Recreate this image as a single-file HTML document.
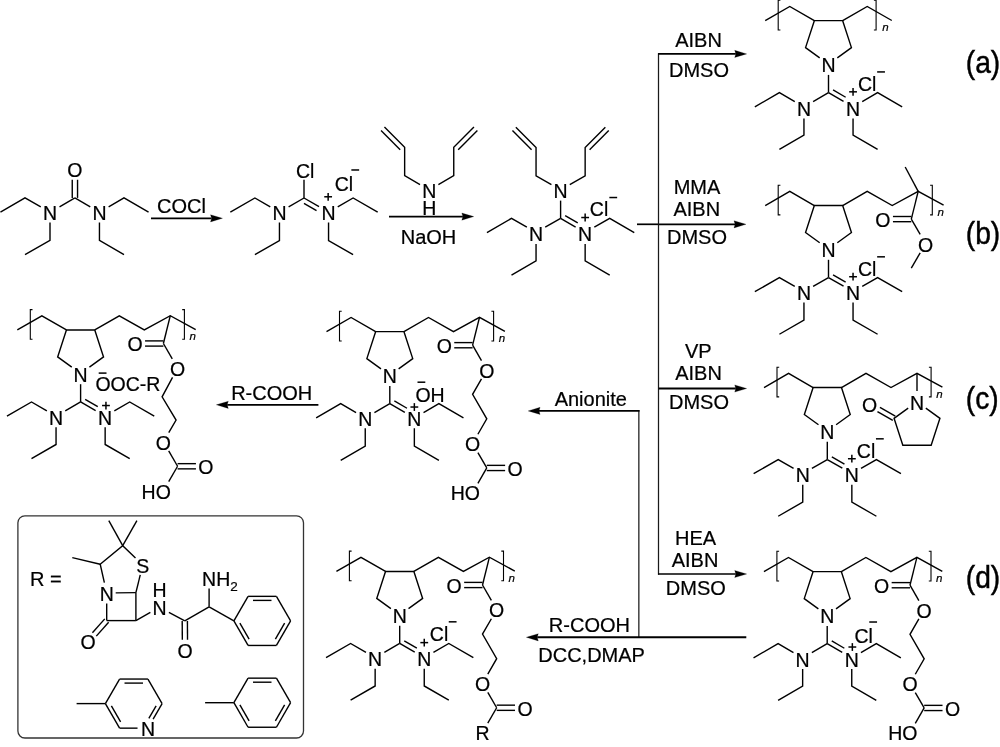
<!DOCTYPE html>
<html><head><meta charset="utf-8"><title>Scheme</title>
<style>html,body{margin:0;padding:0;background:#fff;}body{width:1000px;height:747px;overflow:hidden;font-family:"Liberation Sans",sans-serif;}svg{display:block;will-change:transform;filter:grayscale(1);}</style></head>
<body>
<svg width="1000" height="747" viewBox="0 0 1000 747" font-family="Liberation Sans, sans-serif" fill="#000" stroke="#000" stroke-width="0.22">
<line x1="72.25" y1="197.90" x2="72.25" y2="179.75" stroke="#000" stroke-width="1.4" stroke-linecap="butt"/>
<line x1="77.55" y1="197.90" x2="77.55" y2="179.75" stroke="#000" stroke-width="1.4" stroke-linecap="butt"/>
<text x="74.90" y="177.45" font-size="19.5" text-anchor="middle" >O</text>
<line x1="74.90" y1="197.90" x2="59.53" y2="206.78" stroke="#000" stroke-width="1.4" stroke-linecap="butt"/>
<line x1="74.90" y1="197.90" x2="90.27" y2="206.78" stroke="#000" stroke-width="1.4" stroke-linecap="butt"/>
<polyline fill="none" stroke="#000" stroke-width="1.4" stroke-linejoin="miter" points="40.78,206.85 25.00,197.90 0.45,212.08"/>
<polyline fill="none" stroke="#000" stroke-width="1.4" stroke-linejoin="miter" points="50.00,222.48 50.00,240.43 25.00,254.60"/>
<text x="50.00" y="219.98" font-size="19.5" text-anchor="middle" >N</text>
<polyline fill="none" stroke="#000" stroke-width="1.4" stroke-linejoin="miter" points="108.63,206.78 124.00,197.90 148.56,212.08"/>
<polyline fill="none" stroke="#000" stroke-width="1.4" stroke-linejoin="miter" points="99.45,222.48 99.45,240.43 124.00,254.60"/>
<text x="99.45" y="219.98" font-size="19.5" text-anchor="middle" >N</text>
<line x1="151.00" y1="218.30" x2="211.60" y2="218.30" stroke="#000" stroke-width="1.7" stroke-linecap="butt"/>
<path d="M222.50,218.30 L210.50,221.90 L211.60,218.30 L210.50,214.70 Z" fill="#000"/>
<text x="181.50" y="213.00" font-size="20" text-anchor="middle" >COCl</text>
<line x1="304.00" y1="198.00" x2="304.00" y2="179.85" stroke="#000" stroke-width="1.4" stroke-linecap="butt"/>
<text x="296.00" y="177.55" font-size="19.5" text-anchor="start" >Cl</text>
<line x1="304.00" y1="198.00" x2="288.63" y2="206.88" stroke="#000" stroke-width="1.4" stroke-linecap="butt"/>
<line x1="304.00" y1="198.00" x2="319.03" y2="206.68" stroke="#000" stroke-width="1.4" stroke-linecap="butt"/>
<line x1="303.95" y1="203.28" x2="316.55" y2="210.56" stroke="#000" stroke-width="1.4" stroke-linecap="butt"/>
<polyline fill="none" stroke="#000" stroke-width="1.4" stroke-linejoin="miter" points="270.27,206.88 254.90,198.00 230.34,212.18"/>
<polyline fill="none" stroke="#000" stroke-width="1.4" stroke-linejoin="miter" points="337.73,206.88 353.10,198.00 377.66,212.18"/>
<polyline fill="none" stroke="#000" stroke-width="1.4" stroke-linejoin="miter" points="279.45,222.58 279.45,240.53 254.90,254.70"/>
<polyline fill="none" stroke="#000" stroke-width="1.4" stroke-linejoin="miter" points="328.55,222.58 328.55,240.53 353.10,254.70"/>
<text x="279.45" y="220.08" font-size="19.5" text-anchor="middle" >N</text>
<text x="328.55" y="220.08" font-size="19.5" text-anchor="middle" >N</text>
<line x1="324.25" y1="196.78" x2="332.05" y2="196.78" stroke="#000" stroke-width="1.5" stroke-linecap="butt"/>
<line x1="328.15" y1="192.88" x2="328.15" y2="200.68" stroke="#000" stroke-width="1.5" stroke-linecap="butt"/>
<text x="343.85" y="190.88" font-size="19.5" text-anchor="middle" >Cl</text>
<line x1="351.35" y1="169.98" x2="359.15" y2="169.98" stroke="#000" stroke-width="1.5" stroke-linecap="butt"/>
<line x1="389.00" y1="216.60" x2="462.90" y2="216.60" stroke="#000" stroke-width="1.9" stroke-linecap="butt"/>
<path d="M473.80,216.60 L461.80,220.20 L462.90,216.60 L461.80,213.00 Z" fill="#000"/>
<text x="428.50" y="243.70" font-size="20" text-anchor="middle" >NaOH</text>
<polyline fill="none" stroke="#000" stroke-width="1.4" stroke-linejoin="miter" points="420.02,184.60 404.65,175.72 404.65,147.38 384.45,127.08"/>
<line x1="400.19" y1="149.70" x2="381.04" y2="130.46" stroke="#000" stroke-width="1.4" stroke-linecap="butt"/>
<polyline fill="none" stroke="#000" stroke-width="1.4" stroke-linejoin="miter" points="438.38,184.60 453.75,175.72 453.75,147.38 473.95,127.08"/>
<line x1="458.21" y1="149.70" x2="477.36" y2="130.46" stroke="#000" stroke-width="1.4" stroke-linecap="butt"/>
<text x="429.20" y="197.80" font-size="19.5" text-anchor="middle" >N</text>
<text x="429.20" y="214.60" font-size="19.5" text-anchor="middle" >H</text>
<polyline fill="none" stroke="#000" stroke-width="1.4" stroke-linejoin="miter" points="551.42,184.70 536.05,175.82 536.05,147.47 515.85,127.17"/>
<line x1="531.59" y1="149.80" x2="512.44" y2="130.56" stroke="#000" stroke-width="1.4" stroke-linecap="butt"/>
<polyline fill="none" stroke="#000" stroke-width="1.4" stroke-linejoin="miter" points="569.78,184.70 585.15,175.82 585.15,147.47 605.35,127.17"/>
<line x1="589.61" y1="149.80" x2="608.76" y2="130.56" stroke="#000" stroke-width="1.4" stroke-linecap="butt"/>
<text x="560.60" y="197.90" font-size="19.5" text-anchor="middle" >N</text>
<line x1="560.60" y1="200.60" x2="560.60" y2="218.35" stroke="#000" stroke-width="1.4" stroke-linecap="butt"/>
<line x1="560.60" y1="218.35" x2="545.23" y2="227.22" stroke="#000" stroke-width="1.4" stroke-linecap="butt"/>
<line x1="560.60" y1="218.35" x2="575.63" y2="227.03" stroke="#000" stroke-width="1.4" stroke-linecap="butt"/>
<line x1="565.15" y1="215.67" x2="577.75" y2="222.94" stroke="#000" stroke-width="1.4" stroke-linecap="butt"/>
<polyline fill="none" stroke="#000" stroke-width="1.4" stroke-linejoin="miter" points="526.87,227.22 511.50,218.35 486.94,232.53"/>
<polyline fill="none" stroke="#000" stroke-width="1.4" stroke-linejoin="miter" points="594.33,227.22 609.70,218.35 634.26,232.53"/>
<polyline fill="none" stroke="#000" stroke-width="1.4" stroke-linejoin="miter" points="536.05,243.93 536.05,260.88 511.50,275.05"/>
<polyline fill="none" stroke="#000" stroke-width="1.4" stroke-linejoin="miter" points="585.15,243.93 585.15,260.88 609.70,275.05"/>
<text x="536.05" y="241.43" font-size="19.5" text-anchor="middle" >N</text>
<text x="585.15" y="241.43" font-size="19.5" text-anchor="middle" >N</text>
<line x1="581.25" y1="217.53" x2="589.05" y2="217.53" stroke="#000" stroke-width="1.5" stroke-linecap="butt"/>
<line x1="585.15" y1="213.62" x2="585.15" y2="221.43" stroke="#000" stroke-width="1.5" stroke-linecap="butt"/>
<text x="599.05" y="216.43" font-size="19.5" text-anchor="middle" >Cl</text>
<line x1="609.35" y1="197.53" x2="617.15" y2="197.53" stroke="#000" stroke-width="1.5" stroke-linecap="butt"/>
<line x1="637.00" y1="224.30" x2="658.70" y2="224.30" stroke="#000" stroke-width="1.7" stroke-linecap="butt"/>
<line x1="658.50" y1="53.20" x2="658.50" y2="574.70" stroke="#1a1a1a" stroke-width="1.25" stroke-linecap="butt"/>
<line x1="658.10" y1="53.90" x2="735.80" y2="53.90" stroke="#000" stroke-width="1.7" stroke-linecap="butt"/>
<path d="M746.70,53.90 L734.70,57.50 L735.80,53.90 L734.70,50.30 Z" fill="#000"/>
<line x1="658.70" y1="224.30" x2="735.10" y2="224.30" stroke="#000" stroke-width="1.7" stroke-linecap="butt"/>
<path d="M746.00,224.30 L734.00,227.90 L735.10,224.30 L734.00,220.70 Z" fill="#000"/>
<line x1="658.70" y1="388.50" x2="735.80" y2="388.50" stroke="#000" stroke-width="1.9" stroke-linecap="butt"/>
<path d="M746.70,388.50 L734.70,392.10 L735.80,388.50 L734.70,384.90 Z" fill="#000"/>
<line x1="658.10" y1="574.00" x2="735.80" y2="574.00" stroke="#000" stroke-width="1.7" stroke-linecap="butt"/>
<path d="M746.70,574.00 L734.70,577.60 L735.80,574.00 L734.70,570.40 Z" fill="#000"/>
<text x="698.50" y="46.90" font-size="20" text-anchor="middle" >AIBN</text>
<text x="699.00" y="76.90" font-size="20" text-anchor="middle" >DMSO</text>
<text x="697.00" y="194.40" font-size="20" text-anchor="middle" >MMA</text>
<text x="696.80" y="216.20" font-size="20" text-anchor="middle" >AIBN</text>
<text x="697.00" y="244.00" font-size="20" text-anchor="middle" >DMSO</text>
<text x="698.30" y="358.30" font-size="20" text-anchor="middle" >VP</text>
<text x="698.50" y="380.10" font-size="20" text-anchor="middle" >AIBN</text>
<text x="699.00" y="408.50" font-size="20" text-anchor="middle" >DMSO</text>
<text x="695.60" y="545.00" font-size="20" text-anchor="middle" >HEA</text>
<text x="695.00" y="567.00" font-size="20" text-anchor="middle" >AIBN</text>
<text x="695.80" y="595.40" font-size="20" text-anchor="middle" >DMSO</text>
<text transform="translate(965.8,72.5) scale(0.91,1)" x="0" y="0" font-size="31" stroke-width="0.45" text-anchor="start">(a)</text>
<text transform="translate(965.8,244.0) scale(0.91,1)" x="0" y="0" font-size="31" stroke-width="0.45" text-anchor="start">(b)</text>
<text transform="translate(965.8,408.8) scale(0.91,1)" x="0" y="0" font-size="31" stroke-width="0.45" text-anchor="start">(c)</text>
<text transform="translate(965.8,588.2) scale(0.91,1)" x="0" y="0" font-size="31" stroke-width="0.45" text-anchor="start">(d)</text>
<polyline fill="none" stroke="#000" stroke-width="1.4" stroke-linejoin="miter" points="819.68,57.89 805.56,47.64 814.33,20.67 842.67,20.67 851.44,47.64 837.32,57.89"/>
<text x="828.50" y="72.20" font-size="19.5" text-anchor="middle" >N</text>
<polyline fill="none" stroke="#000" stroke-width="1.4" stroke-linejoin="miter" points="814.33,20.67 789.77,6.50 765.22,20.67"/>
<polyline fill="none" stroke="#000" stroke-width="1.1" stroke-linejoin="miter" points="780.40,0.30 778.20,0.30 778.20,30.00 780.40,30.00"/>
<line x1="828.50" y1="74.90" x2="828.50" y2="92.65" stroke="#000" stroke-width="1.4" stroke-linecap="butt"/>
<line x1="828.50" y1="92.65" x2="813.13" y2="101.53" stroke="#000" stroke-width="1.4" stroke-linecap="butt"/>
<line x1="828.50" y1="92.65" x2="843.53" y2="101.33" stroke="#000" stroke-width="1.4" stroke-linecap="butt"/>
<line x1="833.05" y1="89.97" x2="845.65" y2="97.24" stroke="#000" stroke-width="1.4" stroke-linecap="butt"/>
<polyline fill="none" stroke="#000" stroke-width="1.4" stroke-linejoin="miter" points="794.77,101.53 779.40,92.65 754.84,106.83"/>
<polyline fill="none" stroke="#000" stroke-width="1.4" stroke-linejoin="miter" points="862.23,101.53 877.60,92.65 902.16,106.83"/>
<polyline fill="none" stroke="#000" stroke-width="1.4" stroke-linejoin="miter" points="803.95,118.42 803.95,135.18 779.40,149.35"/>
<polyline fill="none" stroke="#000" stroke-width="1.4" stroke-linejoin="miter" points="853.05,118.42 853.05,135.18 877.60,149.35"/>
<text x="803.95" y="115.93" font-size="19.5" text-anchor="middle" >N</text>
<text x="853.05" y="115.93" font-size="19.5" text-anchor="middle" >N</text>
<line x1="849.15" y1="91.83" x2="856.95" y2="91.83" stroke="#000" stroke-width="1.5" stroke-linecap="butt"/>
<line x1="853.05" y1="87.92" x2="853.05" y2="95.73" stroke="#000" stroke-width="1.5" stroke-linecap="butt"/>
<text x="867.25" y="91.03" font-size="19.5" text-anchor="middle" >Cl</text>
<line x1="877.15" y1="71.93" x2="884.95" y2="71.93" stroke="#000" stroke-width="1.5" stroke-linecap="butt"/>
<polyline fill="none" stroke="#000" stroke-width="1.4" stroke-linejoin="miter" points="842.67,20.67 867.23,6.50 891.80,20.50"/>
<polyline fill="none" stroke="#000" stroke-width="1.1" stroke-linejoin="miter" points="873.90,0.30 876.10,0.30 876.10,30.00 873.90,30.00"/>
<text x="885.40" y="30.70" font-size="11.5" text-anchor="middle" font-style="italic">n</text>
<polyline fill="none" stroke="#000" stroke-width="1.4" stroke-linejoin="miter" points="819.68,242.79 805.56,232.54 814.33,205.57 842.67,205.57 851.44,232.54 837.32,242.79"/>
<text x="828.50" y="257.10" font-size="19.5" text-anchor="middle" >N</text>
<polyline fill="none" stroke="#000" stroke-width="1.4" stroke-linejoin="miter" points="814.33,205.57 789.77,191.40 765.22,205.57"/>
<polyline fill="none" stroke="#000" stroke-width="1.1" stroke-linejoin="miter" points="780.40,185.20 778.20,185.20 778.20,214.90 780.40,214.90"/>
<line x1="828.50" y1="259.80" x2="828.50" y2="277.55" stroke="#000" stroke-width="1.4" stroke-linecap="butt"/>
<line x1="828.50" y1="277.55" x2="813.13" y2="286.43" stroke="#000" stroke-width="1.4" stroke-linecap="butt"/>
<line x1="828.50" y1="277.55" x2="843.53" y2="286.23" stroke="#000" stroke-width="1.4" stroke-linecap="butt"/>
<line x1="833.05" y1="274.87" x2="845.65" y2="282.14" stroke="#000" stroke-width="1.4" stroke-linecap="butt"/>
<polyline fill="none" stroke="#000" stroke-width="1.4" stroke-linejoin="miter" points="794.77,286.43 779.40,277.55 754.84,291.73"/>
<polyline fill="none" stroke="#000" stroke-width="1.4" stroke-linejoin="miter" points="862.23,286.43 877.60,277.55 902.16,291.73"/>
<polyline fill="none" stroke="#000" stroke-width="1.4" stroke-linejoin="miter" points="803.95,302.62 803.95,320.08 779.40,334.25"/>
<polyline fill="none" stroke="#000" stroke-width="1.4" stroke-linejoin="miter" points="853.05,302.62 853.05,320.08 877.60,334.25"/>
<text x="803.95" y="300.12" font-size="19.5" text-anchor="middle" >N</text>
<text x="853.05" y="300.12" font-size="19.5" text-anchor="middle" >N</text>
<line x1="849.15" y1="276.73" x2="856.95" y2="276.73" stroke="#000" stroke-width="1.5" stroke-linecap="butt"/>
<line x1="853.05" y1="272.83" x2="853.05" y2="280.62" stroke="#000" stroke-width="1.5" stroke-linecap="butt"/>
<text x="867.25" y="275.93" font-size="19.5" text-anchor="middle" >Cl</text>
<line x1="877.15" y1="256.83" x2="884.95" y2="256.83" stroke="#000" stroke-width="1.5" stroke-linecap="butt"/>
<polyline fill="none" stroke="#000" stroke-width="1.4" stroke-linejoin="miter" points="842.67,205.57 867.20,191.40 892.20,205.50 918.20,191.30 943.60,205.20"/>
<polyline fill="none" stroke="#000" stroke-width="1.1" stroke-linejoin="miter" points="930.10,185.20 932.30,185.20 932.30,214.90 930.10,214.90"/>
<text x="940.60" y="215.60" font-size="11.5" text-anchor="middle" font-style="italic">n</text>
<line x1="918.20" y1="191.30" x2="905.20" y2="167.00" stroke="#000" stroke-width="1.4" stroke-linecap="butt"/>
<line x1="918.20" y1="191.30" x2="911.30" y2="219.10" stroke="#000" stroke-width="1.4" stroke-linecap="butt"/>
<line x1="911.30" y1="221.70" x2="892.95" y2="221.70" stroke="#000" stroke-width="1.4" stroke-linecap="butt"/>
<line x1="911.30" y1="216.50" x2="892.95" y2="216.50" stroke="#000" stroke-width="1.4" stroke-linecap="butt"/>
<line x1="911.30" y1="219.10" x2="920.18" y2="234.47" stroke="#000" stroke-width="1.4" stroke-linecap="butt"/>
<text x="882.95" y="227.00" font-size="19.5" text-anchor="middle" >O</text>
<text x="925.48" y="251.55" font-size="19.5" text-anchor="middle" >O</text>
<line x1="920.18" y1="252.83" x2="911.30" y2="268.20" stroke="#000" stroke-width="1.4" stroke-linecap="butt"/>
<polyline fill="none" stroke="#000" stroke-width="1.4" stroke-linejoin="miter" points="818.48,424.79 804.36,414.54 813.12,387.57 841.47,387.57 850.24,414.54 836.12,424.79"/>
<text x="827.30" y="439.10" font-size="19.5" text-anchor="middle" >N</text>
<polyline fill="none" stroke="#000" stroke-width="1.4" stroke-linejoin="miter" points="813.12,387.57 788.57,373.40 764.02,387.57"/>
<polyline fill="none" stroke="#000" stroke-width="1.1" stroke-linejoin="miter" points="779.20,367.20 777.00,367.20 777.00,396.90 779.20,396.90"/>
<line x1="827.30" y1="441.80" x2="827.30" y2="459.55" stroke="#000" stroke-width="1.4" stroke-linecap="butt"/>
<line x1="827.30" y1="459.55" x2="811.93" y2="468.43" stroke="#000" stroke-width="1.4" stroke-linecap="butt"/>
<line x1="827.30" y1="459.55" x2="842.33" y2="468.23" stroke="#000" stroke-width="1.4" stroke-linecap="butt"/>
<line x1="831.85" y1="456.87" x2="844.45" y2="464.14" stroke="#000" stroke-width="1.4" stroke-linecap="butt"/>
<polyline fill="none" stroke="#000" stroke-width="1.4" stroke-linejoin="miter" points="793.57,468.43 778.20,459.55 753.64,473.73"/>
<polyline fill="none" stroke="#000" stroke-width="1.4" stroke-linejoin="miter" points="861.03,468.43 876.40,459.55 900.96,473.73"/>
<polyline fill="none" stroke="#000" stroke-width="1.4" stroke-linejoin="miter" points="802.75,484.83 802.75,502.08 778.20,516.25"/>
<polyline fill="none" stroke="#000" stroke-width="1.4" stroke-linejoin="miter" points="851.85,484.83 851.85,502.08 876.40,516.25"/>
<text x="802.75" y="482.32" font-size="19.5" text-anchor="middle" >N</text>
<text x="851.85" y="482.32" font-size="19.5" text-anchor="middle" >N</text>
<line x1="847.95" y1="458.73" x2="855.75" y2="458.73" stroke="#000" stroke-width="1.5" stroke-linecap="butt"/>
<line x1="851.85" y1="454.83" x2="851.85" y2="462.62" stroke="#000" stroke-width="1.5" stroke-linecap="butt"/>
<text x="866.05" y="457.93" font-size="19.5" text-anchor="middle" >Cl</text>
<line x1="875.95" y1="438.83" x2="883.75" y2="438.83" stroke="#000" stroke-width="1.5" stroke-linecap="butt"/>
<polyline fill="none" stroke="#000" stroke-width="1.4" stroke-linejoin="miter" points="841.47,387.57 866.00,373.40 891.00,387.50 917.00,373.30 942.40,387.20"/>
<polyline fill="none" stroke="#000" stroke-width="1.1" stroke-linejoin="miter" points="928.90,367.20 931.10,367.20 931.10,396.90 928.90,396.90"/>
<text x="939.40" y="397.60" font-size="11.5" text-anchor="middle" font-style="italic">n</text>
<line x1="917.00" y1="373.30" x2="917.00" y2="391.05" stroke="#000" stroke-width="1.4" stroke-linecap="butt"/>
<polyline fill="none" stroke="#000" stroke-width="1.4" stroke-linejoin="miter" points="908.18,408.06 894.06,418.31 902.83,445.28 931.17,445.28 939.94,418.31 925.82,408.06"/>
<text x="917.00" y="409.55" font-size="19.5" text-anchor="middle" >N</text>
<line x1="892.81" y1="420.48" x2="877.44" y2="411.60" stroke="#000" stroke-width="1.4" stroke-linecap="butt"/>
<line x1="895.31" y1="416.14" x2="879.94" y2="407.27" stroke="#000" stroke-width="1.4" stroke-linecap="butt"/>
<text x="869.51" y="412.04" font-size="19.5" text-anchor="middle" >O</text>
<polyline fill="none" stroke="#000" stroke-width="1.4" stroke-linejoin="miter" points="818.38,608.89 804.26,598.64 813.03,571.67 841.38,571.67 850.14,598.64 836.02,608.89"/>
<text x="827.20" y="623.20" font-size="19.5" text-anchor="middle" >N</text>
<polyline fill="none" stroke="#000" stroke-width="1.4" stroke-linejoin="miter" points="813.03,571.67 788.47,557.50 763.92,571.67"/>
<polyline fill="none" stroke="#000" stroke-width="1.1" stroke-linejoin="miter" points="779.10,551.30 776.90,551.30 776.90,581.00 779.10,581.00"/>
<line x1="827.20" y1="625.90" x2="827.20" y2="643.65" stroke="#000" stroke-width="1.4" stroke-linecap="butt"/>
<line x1="827.20" y1="643.65" x2="811.83" y2="652.52" stroke="#000" stroke-width="1.4" stroke-linecap="butt"/>
<line x1="827.20" y1="643.65" x2="842.23" y2="652.32" stroke="#000" stroke-width="1.4" stroke-linecap="butt"/>
<line x1="831.75" y1="640.97" x2="844.35" y2="648.24" stroke="#000" stroke-width="1.4" stroke-linecap="butt"/>
<polyline fill="none" stroke="#000" stroke-width="1.4" stroke-linejoin="miter" points="793.47,652.52 778.10,643.65 753.54,657.82"/>
<polyline fill="none" stroke="#000" stroke-width="1.4" stroke-linejoin="miter" points="860.93,652.52 876.30,643.65 900.86,657.82"/>
<polyline fill="none" stroke="#000" stroke-width="1.4" stroke-linejoin="miter" points="802.65,669.02 802.65,686.17 778.10,700.35"/>
<polyline fill="none" stroke="#000" stroke-width="1.4" stroke-linejoin="miter" points="851.75,669.02 851.75,686.17 876.30,700.35"/>
<text x="802.65" y="666.52" font-size="19.5" text-anchor="middle" >N</text>
<text x="851.75" y="666.52" font-size="19.5" text-anchor="middle" >N</text>
<line x1="848.45" y1="647.02" x2="856.25" y2="647.02" stroke="#000" stroke-width="1.5" stroke-linecap="butt"/>
<line x1="852.35" y1="643.12" x2="852.35" y2="650.92" stroke="#000" stroke-width="1.5" stroke-linecap="butt"/>
<text x="863.65" y="642.62" font-size="19.5" text-anchor="middle" >Cl</text>
<line x1="869.25" y1="622.02" x2="877.05" y2="622.02" stroke="#000" stroke-width="1.5" stroke-linecap="butt"/>
<polyline fill="none" stroke="#000" stroke-width="1.4" stroke-linejoin="miter" points="841.38,571.67 865.90,557.50 890.90,571.60 916.90,557.40 942.30,571.30"/>
<polyline fill="none" stroke="#000" stroke-width="1.1" stroke-linejoin="miter" points="928.80,551.30 931.00,551.30 931.00,581.00 928.80,581.00"/>
<text x="939.30" y="581.70" font-size="11.5" text-anchor="middle" font-style="italic">n</text>
<line x1="916.90" y1="557.40" x2="910.00" y2="585.20" stroke="#000" stroke-width="1.4" stroke-linecap="butt"/>
<line x1="910.00" y1="587.80" x2="891.65" y2="587.80" stroke="#000" stroke-width="1.4" stroke-linecap="butt"/>
<line x1="910.00" y1="582.60" x2="891.65" y2="582.60" stroke="#000" stroke-width="1.4" stroke-linecap="butt"/>
<line x1="910.00" y1="585.20" x2="918.88" y2="600.57" stroke="#000" stroke-width="1.4" stroke-linecap="butt"/>
<text x="881.65" y="593.10" font-size="19.5" text-anchor="middle" >O</text>
<text x="924.18" y="617.65" font-size="19.5" text-anchor="middle" >O</text>
<polyline fill="none" stroke="#000" stroke-width="1.4" stroke-linejoin="miter" points="918.88,618.93 910.00,634.30 924.18,658.86 915.30,674.23"/>
<line x1="915.30" y1="692.59" x2="924.18" y2="707.96" stroke="#000" stroke-width="1.4" stroke-linecap="butt"/>
<line x1="924.18" y1="705.36" x2="942.53" y2="705.36" stroke="#000" stroke-width="1.4" stroke-linecap="butt"/>
<line x1="924.18" y1="710.56" x2="942.53" y2="710.56" stroke="#000" stroke-width="1.4" stroke-linecap="butt"/>
<text x="910.00" y="691.31" font-size="19.5" text-anchor="middle" >O</text>
<text x="952.53" y="715.86" font-size="19.5" text-anchor="middle" >O</text>
<line x1="924.18" y1="707.96" x2="915.30" y2="723.33" stroke="#000" stroke-width="1.4" stroke-linecap="butt"/>
<text x="917.40" y="740.41" font-size="19.5" text-anchor="end" >HO</text>
<polyline fill="none" stroke="#000" stroke-width="1.4" stroke-linejoin="miter" points="71.78,367.19 57.66,356.94 66.42,329.97 94.77,329.97 103.54,356.94 89.42,367.19"/>
<text x="80.60" y="381.50" font-size="19.5" text-anchor="middle" >N</text>
<polyline fill="none" stroke="#000" stroke-width="1.4" stroke-linejoin="miter" points="66.42,329.97 41.87,315.80 17.32,329.97"/>
<polyline fill="none" stroke="#000" stroke-width="1.1" stroke-linejoin="miter" points="32.50,309.60 30.30,309.60 30.30,339.30 32.50,339.30"/>
<line x1="80.60" y1="384.20" x2="80.60" y2="401.95" stroke="#000" stroke-width="1.4" stroke-linecap="butt"/>
<line x1="80.60" y1="401.95" x2="65.23" y2="410.83" stroke="#000" stroke-width="1.4" stroke-linecap="butt"/>
<line x1="80.60" y1="401.95" x2="95.63" y2="410.63" stroke="#000" stroke-width="1.4" stroke-linecap="butt"/>
<line x1="85.15" y1="399.27" x2="97.75" y2="406.54" stroke="#000" stroke-width="1.4" stroke-linecap="butt"/>
<polyline fill="none" stroke="#000" stroke-width="1.4" stroke-linejoin="miter" points="46.87,410.83 31.50,401.95 6.94,416.13"/>
<polyline fill="none" stroke="#000" stroke-width="1.4" stroke-linejoin="miter" points="114.33,410.83 129.70,401.95 154.26,416.13"/>
<polyline fill="none" stroke="#000" stroke-width="1.4" stroke-linejoin="miter" points="56.05,427.13 56.05,444.48 31.50,458.65"/>
<polyline fill="none" stroke="#000" stroke-width="1.4" stroke-linejoin="miter" points="105.15,427.13 105.15,444.48 129.70,458.65"/>
<text x="56.05" y="424.63" font-size="19.5" text-anchor="middle" >N</text>
<text x="105.15" y="424.63" font-size="19.5" text-anchor="middle" >N</text>
<line x1="102.05" y1="405.53" x2="109.85" y2="405.53" stroke="#000" stroke-width="1.5" stroke-linecap="butt"/>
<line x1="105.95" y1="401.63" x2="105.95" y2="409.43" stroke="#000" stroke-width="1.5" stroke-linecap="butt"/>
<polyline fill="none" stroke="#000" stroke-width="1.4" stroke-linejoin="miter" points="94.77,329.97 119.30,315.80 144.30,329.90 170.30,315.70 195.70,329.60"/>
<polyline fill="none" stroke="#000" stroke-width="1.1" stroke-linejoin="miter" points="182.20,309.60 184.40,309.60 184.40,339.30 182.20,339.30"/>
<text x="192.70" y="340.00" font-size="11.5" text-anchor="middle" font-style="italic">n</text>
<line x1="170.30" y1="315.70" x2="163.40" y2="343.50" stroke="#000" stroke-width="1.4" stroke-linecap="butt"/>
<line x1="163.40" y1="346.10" x2="145.05" y2="346.10" stroke="#000" stroke-width="1.4" stroke-linecap="butt"/>
<line x1="163.40" y1="340.90" x2="145.05" y2="340.90" stroke="#000" stroke-width="1.4" stroke-linecap="butt"/>
<line x1="163.40" y1="343.50" x2="172.28" y2="358.87" stroke="#000" stroke-width="1.4" stroke-linecap="butt"/>
<text x="135.05" y="351.40" font-size="19.5" text-anchor="middle" >O</text>
<text x="177.58" y="375.95" font-size="19.5" text-anchor="middle" >O</text>
<polyline fill="none" stroke="#000" stroke-width="1.4" stroke-linejoin="miter" points="172.55,377.39 162.10,396.80 176.08,420.06 168.76,432.56"/>
<line x1="168.70" y1="450.89" x2="177.58" y2="466.26" stroke="#000" stroke-width="1.4" stroke-linecap="butt"/>
<line x1="177.58" y1="463.66" x2="195.93" y2="463.66" stroke="#000" stroke-width="1.4" stroke-linecap="butt"/>
<line x1="177.58" y1="468.86" x2="195.93" y2="468.86" stroke="#000" stroke-width="1.4" stroke-linecap="butt"/>
<text x="163.40" y="449.61" font-size="19.5" text-anchor="middle" >O</text>
<text x="205.93" y="474.16" font-size="19.5" text-anchor="middle" >O</text>
<line x1="177.58" y1="466.26" x2="168.70" y2="481.63" stroke="#000" stroke-width="1.4" stroke-linecap="butt"/>
<text x="170.80" y="498.71" font-size="19.5" text-anchor="end" >HO</text>
<text x="95.40" y="390.70" font-size="19.5" text-anchor="start" >OOC-R</text>
<line x1="98.70" y1="373.10" x2="106.50" y2="373.10" stroke="#000" stroke-width="1.5" stroke-linecap="butt"/>
<polyline fill="none" stroke="#000" stroke-width="1.4" stroke-linejoin="miter" points="380.98,368.89 366.86,358.64 375.62,331.67 403.98,331.67 412.74,358.64 398.62,368.89"/>
<text x="389.80" y="383.20" font-size="19.5" text-anchor="middle" >N</text>
<polyline fill="none" stroke="#000" stroke-width="1.4" stroke-linejoin="miter" points="375.62,331.67 351.07,317.50 326.52,331.67"/>
<polyline fill="none" stroke="#000" stroke-width="1.1" stroke-linejoin="miter" points="341.70,311.30 339.50,311.30 339.50,341.00 341.70,341.00"/>
<line x1="389.80" y1="385.90" x2="389.80" y2="403.65" stroke="#000" stroke-width="1.4" stroke-linecap="butt"/>
<line x1="389.80" y1="403.65" x2="374.43" y2="412.53" stroke="#000" stroke-width="1.4" stroke-linecap="butt"/>
<line x1="389.80" y1="403.65" x2="404.83" y2="412.33" stroke="#000" stroke-width="1.4" stroke-linecap="butt"/>
<line x1="394.35" y1="400.97" x2="406.95" y2="408.24" stroke="#000" stroke-width="1.4" stroke-linecap="butt"/>
<polyline fill="none" stroke="#000" stroke-width="1.4" stroke-linejoin="miter" points="356.07,412.53 340.70,403.65 316.14,417.83"/>
<polyline fill="none" stroke="#000" stroke-width="1.4" stroke-linejoin="miter" points="423.53,412.53 438.90,403.65 463.46,417.83"/>
<polyline fill="none" stroke="#000" stroke-width="1.4" stroke-linejoin="miter" points="365.25,428.23 365.25,446.18 340.70,460.35"/>
<polyline fill="none" stroke="#000" stroke-width="1.4" stroke-linejoin="miter" points="414.35,428.23 414.35,446.18 438.90,460.35"/>
<text x="365.25" y="425.73" font-size="19.5" text-anchor="middle" >N</text>
<text x="414.35" y="425.73" font-size="19.5" text-anchor="middle" >N</text>
<line x1="410.45" y1="407.03" x2="418.25" y2="407.03" stroke="#000" stroke-width="1.5" stroke-linecap="butt"/>
<line x1="414.35" y1="403.13" x2="414.35" y2="410.93" stroke="#000" stroke-width="1.5" stroke-linecap="butt"/>
<polyline fill="none" stroke="#000" stroke-width="1.4" stroke-linejoin="miter" points="403.98,331.67 428.50,317.50 453.50,331.60 479.50,317.40 504.90,331.30"/>
<polyline fill="none" stroke="#000" stroke-width="1.1" stroke-linejoin="miter" points="491.40,311.30 493.60,311.30 493.60,341.00 491.40,341.00"/>
<text x="501.90" y="341.70" font-size="11.5" text-anchor="middle" font-style="italic">n</text>
<line x1="479.50" y1="317.40" x2="472.60" y2="345.20" stroke="#000" stroke-width="1.4" stroke-linecap="butt"/>
<line x1="472.60" y1="347.80" x2="454.25" y2="347.80" stroke="#000" stroke-width="1.4" stroke-linecap="butt"/>
<line x1="472.60" y1="342.60" x2="454.25" y2="342.60" stroke="#000" stroke-width="1.4" stroke-linecap="butt"/>
<line x1="472.60" y1="345.20" x2="481.48" y2="360.57" stroke="#000" stroke-width="1.4" stroke-linecap="butt"/>
<text x="444.25" y="353.10" font-size="19.5" text-anchor="middle" >O</text>
<text x="486.78" y="377.65" font-size="19.5" text-anchor="middle" >O</text>
<polyline fill="none" stroke="#000" stroke-width="1.4" stroke-linejoin="miter" points="481.48,378.93 472.60,394.30 486.78,418.86 477.90,434.23"/>
<line x1="477.90" y1="452.59" x2="486.78" y2="467.96" stroke="#000" stroke-width="1.4" stroke-linecap="butt"/>
<line x1="486.78" y1="465.36" x2="505.12" y2="465.36" stroke="#000" stroke-width="1.4" stroke-linecap="butt"/>
<line x1="486.78" y1="470.56" x2="505.12" y2="470.56" stroke="#000" stroke-width="1.4" stroke-linecap="butt"/>
<text x="472.60" y="451.31" font-size="19.5" text-anchor="middle" >O</text>
<text x="515.12" y="475.86" font-size="19.5" text-anchor="middle" >O</text>
<line x1="486.78" y1="467.96" x2="477.90" y2="483.33" stroke="#000" stroke-width="1.4" stroke-linecap="butt"/>
<text x="480.00" y="500.41" font-size="19.5" text-anchor="end" >HO</text>
<text x="415.45" y="402.43" font-size="19.5" text-anchor="start" >OH</text>
<line x1="417.50" y1="382.20" x2="425.30" y2="382.20" stroke="#000" stroke-width="1.5" stroke-linecap="butt"/>
<polyline fill="none" stroke="#000" stroke-width="1.4" stroke-linejoin="miter" points="390.88,608.69 376.76,598.44 385.52,571.47 413.88,571.47 422.64,598.44 408.52,608.69"/>
<text x="399.70" y="623.00" font-size="19.5" text-anchor="middle" >N</text>
<polyline fill="none" stroke="#000" stroke-width="1.4" stroke-linejoin="miter" points="385.52,571.47 360.97,557.30 336.42,571.47"/>
<polyline fill="none" stroke="#000" stroke-width="1.1" stroke-linejoin="miter" points="351.60,551.10 349.40,551.10 349.40,580.80 351.60,580.80"/>
<line x1="399.70" y1="625.70" x2="399.70" y2="643.45" stroke="#000" stroke-width="1.4" stroke-linecap="butt"/>
<line x1="399.70" y1="643.45" x2="384.33" y2="652.33" stroke="#000" stroke-width="1.4" stroke-linecap="butt"/>
<line x1="399.70" y1="643.45" x2="414.73" y2="652.12" stroke="#000" stroke-width="1.4" stroke-linecap="butt"/>
<line x1="404.25" y1="640.77" x2="416.85" y2="648.04" stroke="#000" stroke-width="1.4" stroke-linecap="butt"/>
<polyline fill="none" stroke="#000" stroke-width="1.4" stroke-linejoin="miter" points="365.97,652.33 350.60,643.45 326.04,657.62"/>
<polyline fill="none" stroke="#000" stroke-width="1.4" stroke-linejoin="miter" points="433.43,652.33 448.80,643.45 473.36,657.62"/>
<polyline fill="none" stroke="#000" stroke-width="1.4" stroke-linejoin="miter" points="375.15,668.83 375.15,685.98 350.60,700.15"/>
<polyline fill="none" stroke="#000" stroke-width="1.4" stroke-linejoin="miter" points="424.25,668.83 424.25,685.98 448.80,700.15"/>
<text x="375.15" y="666.32" font-size="19.5" text-anchor="middle" >N</text>
<text x="424.25" y="666.32" font-size="19.5" text-anchor="middle" >N</text>
<line x1="420.35" y1="642.62" x2="428.15" y2="642.62" stroke="#000" stroke-width="1.5" stroke-linecap="butt"/>
<line x1="424.25" y1="638.73" x2="424.25" y2="646.52" stroke="#000" stroke-width="1.5" stroke-linecap="butt"/>
<text x="439.05" y="641.02" font-size="19.5" text-anchor="middle" >Cl</text>
<line x1="448.75" y1="621.83" x2="456.55" y2="621.83" stroke="#000" stroke-width="1.5" stroke-linecap="butt"/>
<polyline fill="none" stroke="#000" stroke-width="1.4" stroke-linejoin="miter" points="413.88,571.47 438.40,557.30 463.40,571.40 489.40,557.20 514.80,571.10"/>
<polyline fill="none" stroke="#000" stroke-width="1.1" stroke-linejoin="miter" points="501.30,551.10 503.50,551.10 503.50,580.80 501.30,580.80"/>
<text x="511.80" y="581.50" font-size="11.5" text-anchor="middle" font-style="italic">n</text>
<line x1="489.40" y1="557.20" x2="482.50" y2="585.00" stroke="#000" stroke-width="1.4" stroke-linecap="butt"/>
<line x1="482.50" y1="587.60" x2="464.15" y2="587.60" stroke="#000" stroke-width="1.4" stroke-linecap="butt"/>
<line x1="482.50" y1="582.40" x2="464.15" y2="582.40" stroke="#000" stroke-width="1.4" stroke-linecap="butt"/>
<line x1="482.50" y1="585.00" x2="491.38" y2="600.37" stroke="#000" stroke-width="1.4" stroke-linecap="butt"/>
<text x="454.15" y="592.90" font-size="19.5" text-anchor="middle" >O</text>
<text x="496.68" y="617.45" font-size="19.5" text-anchor="middle" >O</text>
<polyline fill="none" stroke="#000" stroke-width="1.4" stroke-linejoin="miter" points="491.38,618.73 482.50,634.10 496.68,658.66 487.80,674.03"/>
<line x1="487.80" y1="692.39" x2="496.68" y2="707.76" stroke="#000" stroke-width="1.4" stroke-linecap="butt"/>
<line x1="496.68" y1="705.16" x2="515.02" y2="705.16" stroke="#000" stroke-width="1.4" stroke-linecap="butt"/>
<line x1="496.68" y1="710.36" x2="515.02" y2="710.36" stroke="#000" stroke-width="1.4" stroke-linecap="butt"/>
<text x="482.50" y="691.11" font-size="19.5" text-anchor="middle" >O</text>
<text x="525.02" y="715.66" font-size="19.5" text-anchor="middle" >O</text>
<line x1="496.68" y1="707.76" x2="487.80" y2="723.13" stroke="#000" stroke-width="1.4" stroke-linecap="butt"/>
<text x="482.50" y="740.21" font-size="19.5" text-anchor="middle" >R</text>
<line x1="318.40" y1="404.80" x2="227.20" y2="404.80" stroke="#000" stroke-width="1.8" stroke-linecap="butt"/>
<path d="M216.30,404.80 L228.30,401.20 L227.20,404.80 L228.30,408.40 Z" fill="#000"/>
<text x="271.70" y="399.80" font-size="20" text-anchor="middle" >R-COOH</text>
<line x1="638.85" y1="410.10" x2="638.85" y2="637.00" stroke="#1a1a1a" stroke-width="1.25" stroke-linecap="butt"/>
<line x1="639.50" y1="410.90" x2="539.00" y2="410.90" stroke="#000" stroke-width="1.7" stroke-linecap="butt"/>
<path d="M528.10,410.90 L540.10,407.30 L539.00,410.90 L540.10,414.50 Z" fill="#000"/>
<text x="590.80" y="406.00" font-size="20" text-anchor="middle" >Anionite</text>
<line x1="746.30" y1="637.30" x2="537.20" y2="637.30" stroke="#000" stroke-width="2.0" stroke-linecap="butt"/>
<path d="M526.30,637.30 L538.30,633.70 L537.20,637.30 L538.30,640.90 Z" fill="#000"/>
<text x="589.40" y="631.50" font-size="20" text-anchor="middle" >R-COOH</text>
<text x="591.60" y="661.70" font-size="20" text-anchor="middle" >DCC,DMAP</text>
<rect x="17.9" y="515.8" width="285.6" height="222.2" rx="7" ry="7" fill="none" stroke="#333" stroke-width="1.3"/>
<text x="30.00" y="585.50" font-size="20" text-anchor="start" >R =</text>
<line x1="115.70" y1="592.88" x2="135.90" y2="592.60" stroke="#000" stroke-width="1.4" stroke-linecap="butt"/>
<line x1="135.90" y1="592.60" x2="135.90" y2="620.60" stroke="#000" stroke-width="1.4" stroke-linecap="butt"/>
<line x1="135.90" y1="620.60" x2="106.70" y2="620.60" stroke="#000" stroke-width="1.4" stroke-linecap="butt"/>
<line x1="106.70" y1="620.60" x2="106.70" y2="603.60" stroke="#000" stroke-width="1.4" stroke-linecap="butt"/>
<line x1="108.64" y1="622.33" x2="96.30" y2="636.13" stroke="#000" stroke-width="1.4" stroke-linecap="butt"/>
<line x1="104.76" y1="618.87" x2="92.43" y2="632.66" stroke="#000" stroke-width="1.4" stroke-linecap="butt"/>
<text x="88.10" y="649.30" font-size="19.5" text-anchor="middle" >O</text>
<text x="106.70" y="600.90" font-size="19.5" text-anchor="middle" >N</text>
<polyline fill="none" stroke="#000" stroke-width="1.4" stroke-linejoin="miter" points="104.37,582.66 100.20,564.20 122.70,545.70 135.50,558.06"/>
<line x1="140.26" y1="574.90" x2="135.90" y2="592.60" stroke="#000" stroke-width="1.4" stroke-linecap="butt"/>
<text x="142.70" y="572.90" font-size="19.5" text-anchor="middle" >S</text>
<line x1="100.20" y1="564.20" x2="72.30" y2="557.60" stroke="#000" stroke-width="1.4" stroke-linecap="butt"/>
<line x1="122.70" y1="545.70" x2="108.80" y2="520.60" stroke="#000" stroke-width="1.4" stroke-linecap="butt"/>
<line x1="122.70" y1="545.70" x2="136.90" y2="520.60" stroke="#000" stroke-width="1.4" stroke-linecap="butt"/>
<line x1="135.90" y1="620.60" x2="150.37" y2="612.42" stroke="#000" stroke-width="1.4" stroke-linecap="butt"/>
<text x="159.60" y="615.10" font-size="19.5" text-anchor="middle" >N</text>
<text x="159.60" y="597.00" font-size="19.5" text-anchor="middle" >H</text>
<line x1="168.91" y1="612.26" x2="184.80" y2="620.90" stroke="#000" stroke-width="1.4" stroke-linecap="butt"/>
<line x1="187.40" y1="620.88" x2="187.53" y2="639.68" stroke="#000" stroke-width="1.4" stroke-linecap="butt"/>
<line x1="182.20" y1="620.92" x2="182.33" y2="639.72" stroke="#000" stroke-width="1.4" stroke-linecap="butt"/>
<text x="185.00" y="657.80" font-size="19.5" text-anchor="middle" >O</text>
<line x1="184.80" y1="620.90" x2="209.10" y2="606.80" stroke="#000" stroke-width="1.4" stroke-linecap="butt"/>
<line x1="209.10" y1="606.80" x2="209.10" y2="588.60" stroke="#000" stroke-width="1.4" stroke-linecap="butt"/>
<text x="202.10" y="586.30" font-size="19.5" text-anchor="start">NH<tspan font-size="13.5" dy="4.5">2</tspan></text>
<line x1="209.10" y1="606.80" x2="233.90" y2="620.90" stroke="#000" stroke-width="1.4" stroke-linecap="butt"/>
<line x1="233.90" y1="620.90" x2="248.08" y2="596.35" stroke="#000" stroke-width="1.4" stroke-linecap="butt"/>
<line x1="248.08" y1="596.35" x2="276.43" y2="596.35" stroke="#000" stroke-width="1.4" stroke-linecap="butt"/>
<line x1="276.43" y1="596.35" x2="290.60" y2="620.90" stroke="#000" stroke-width="1.4" stroke-linecap="butt"/>
<line x1="290.60" y1="620.90" x2="276.43" y2="645.45" stroke="#000" stroke-width="1.4" stroke-linecap="butt"/>
<line x1="276.43" y1="645.45" x2="248.08" y2="645.45" stroke="#000" stroke-width="1.4" stroke-linecap="butt"/>
<line x1="248.08" y1="645.45" x2="233.90" y2="620.90" stroke="#000" stroke-width="1.4" stroke-linecap="butt"/>
<line x1="253.01" y1="600.40" x2="271.49" y2="600.40" stroke="#000" stroke-width="1.4" stroke-linecap="butt"/>
<line x1="284.62" y1="623.15" x2="275.39" y2="639.15" stroke="#000" stroke-width="1.4" stroke-linecap="butt"/>
<line x1="249.11" y1="639.15" x2="239.88" y2="623.15" stroke="#000" stroke-width="1.4" stroke-linecap="butt"/>
<line x1="205.10" y1="702.70" x2="233.90" y2="702.70" stroke="#000" stroke-width="1.4" stroke-linecap="butt"/>
<line x1="233.90" y1="702.70" x2="248.08" y2="678.15" stroke="#000" stroke-width="1.4" stroke-linecap="butt"/>
<line x1="248.08" y1="678.15" x2="276.43" y2="678.15" stroke="#000" stroke-width="1.4" stroke-linecap="butt"/>
<line x1="276.43" y1="678.15" x2="290.60" y2="702.70" stroke="#000" stroke-width="1.4" stroke-linecap="butt"/>
<line x1="290.60" y1="702.70" x2="276.43" y2="727.25" stroke="#000" stroke-width="1.4" stroke-linecap="butt"/>
<line x1="276.43" y1="727.25" x2="248.08" y2="727.25" stroke="#000" stroke-width="1.4" stroke-linecap="butt"/>
<line x1="248.08" y1="727.25" x2="233.90" y2="702.70" stroke="#000" stroke-width="1.4" stroke-linecap="butt"/>
<line x1="253.01" y1="682.20" x2="271.49" y2="682.20" stroke="#000" stroke-width="1.4" stroke-linecap="butt"/>
<line x1="284.62" y1="704.95" x2="275.39" y2="720.95" stroke="#000" stroke-width="1.4" stroke-linecap="butt"/>
<line x1="249.11" y1="720.95" x2="239.88" y2="704.95" stroke="#000" stroke-width="1.4" stroke-linecap="butt"/>
<line x1="76.60" y1="703.60" x2="105.40" y2="703.60" stroke="#000" stroke-width="1.4" stroke-linecap="butt"/>
<line x1="105.40" y1="703.60" x2="119.58" y2="679.05" stroke="#000" stroke-width="1.4" stroke-linecap="butt"/>
<line x1="119.58" y1="679.05" x2="147.93" y2="679.05" stroke="#000" stroke-width="1.4" stroke-linecap="butt"/>
<line x1="147.93" y1="679.05" x2="162.10" y2="703.60" stroke="#000" stroke-width="1.4" stroke-linecap="butt"/>
<line x1="162.10" y1="703.60" x2="153.12" y2="719.15" stroke="#000" stroke-width="1.4" stroke-linecap="butt"/>
<line x1="137.53" y1="728.15" x2="119.58" y2="728.15" stroke="#000" stroke-width="1.4" stroke-linecap="butt"/>
<line x1="119.58" y1="728.15" x2="105.40" y2="703.60" stroke="#000" stroke-width="1.4" stroke-linecap="butt"/>
<line x1="124.51" y1="683.10" x2="142.99" y2="683.10" stroke="#000" stroke-width="1.4" stroke-linecap="butt"/>
<line x1="156.12" y1="705.85" x2="148.84" y2="718.47" stroke="#000" stroke-width="1.4" stroke-linecap="butt"/>
<line x1="120.61" y1="721.85" x2="111.38" y2="705.85" stroke="#000" stroke-width="1.4" stroke-linecap="butt"/>
<text x="147.93" y="736.05" font-size="19.5" text-anchor="middle" >N</text>
</svg>
</body></html>
